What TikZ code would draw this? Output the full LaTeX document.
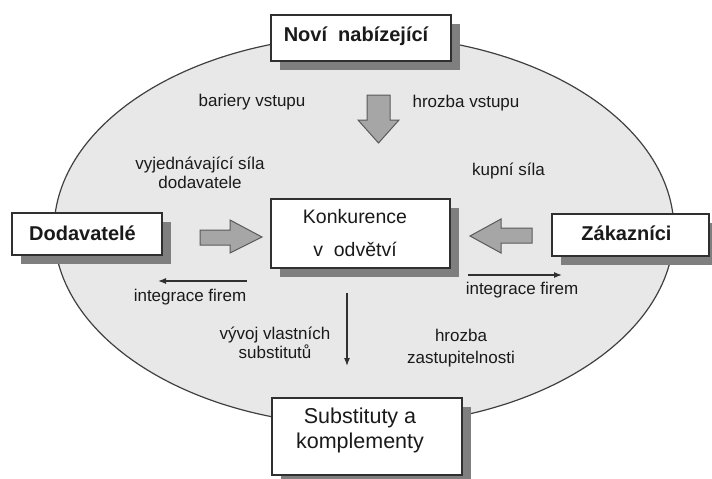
\documentclass[tikz,border=0pt]{standalone}
\usepackage{fontspec}
\setmainfont{Liberation Sans}
\usetikzlibrary{shadows,arrows.meta}
\definecolor{fieldfill}{HTML}{E8E8E8}
\definecolor{fieldline}{HTML}{404040}
\definecolor{boxline}{HTML}{303030}
\definecolor{shadowgray}{HTML}{7F7F7F}
\definecolor{blockfill}{HTML}{A6A6A6}
\definecolor{blockline}{HTML}{5A5A5A}
\definecolor{txt}{HTML}{1A1A1A}
\begin{document}
\begin{tikzpicture}[x=1pt,y=-1pt,
  forcebox/.style={draw=boxline, line width=1.3pt, fill=white, inner sep=0pt,
    general shadow={fill=shadowgray, shadow xshift=9pt, shadow yshift=-9pt}},
  boxtitle/.style={anchor=base, text=txt, inner sep=0pt, font=\fontsize{20}{24}\selectfont\bfseries},
  boxtext/.style={anchor=base, text=txt, inner sep=0pt, align=center},
  lbl/.style={anchor=base, text=txt, inner sep=0pt, align=center, font=\fontsize{17}{19}\selectfont},
  block/.style={fill=blockfill, draw=blockline, line width=1pt, line join=miter},
  thin/.style={draw=boxline, line width=1.2pt, -{Latex[length=8pt,width=6pt]}}
]
\useasboundingbox (0,0) rectangle (712,479);

% industry field
\draw[fill=fieldfill, draw=fieldline, line width=1.2pt] (364,230.5) ellipse [x radius=310pt, y radius=195pt];

% boxes of the five forces
\node[forcebox, minimum width=180pt, minimum height=46pt] (entrants) at (361,38) {};
\node[forcebox, minimum width=150pt, minimum height=42pt] (suppliers) at (87,234) {};
\node[forcebox, minimum width=157pt, minimum height=42pt] (buyers) at (630.5,235) {};
\node[forcebox, minimum width=179pt, minimum height=69pt] (rivalry) at (360.5,233.5) {};
\node[forcebox, minimum width=190pt, minimum height=77pt] (substitutes) at (367,436.5) {};

% box texts (multi-line nodes sit on the baseline of their last line)
\node[boxtitle] at (356,41.5) {Noví\ \ nabízející};
\node[boxtitle] at (82.5,240) {Dodavatelé};
\node[boxtitle] at (626.5,240) {Zákazníci};
\node[boxtext, font=\fontsize{19.5}{32.5}\selectfont] at (355,256) {Konkurence\\v\ \ odvětví};
\node[boxtext, font=\fontsize{21.5}{25}\selectfont] at (360,448.3) {Substituty a\\komplementy};

% block arrows
\draw[block] (367,95) -- (390,95) -- (390,120) -- (399,120) -- (378.5,143) -- (358,120) -- (367,120) -- cycle;
\draw[block] (200,230) -- (230,230) -- (230,220) -- (262,237) -- (230,253) -- (230,245) -- (200,245) -- cycle;
\draw[block] (532,228) -- (501,228) -- (501,219) -- (470,236) -- (501,253) -- (501,243) -- (532,243) -- cycle;

% thin arrows
\coordinate (intL0) at (247,281);
\coordinate (intL1) at (158,281);
\coordinate (intR0) at (468,275);
\coordinate (intR1) at (562,275);
\coordinate (subs0) at (347,293);
\coordinate (subs1) at (347,366);
\draw[thin] (intL0) -- (intL1);
\draw[thin] (intR0) -- (intR1);
\draw[thin] (subs0) -- (subs1);

% labels
\node[lbl] at (252,106.7) {bariery vstupu};
\node[lbl] at (466,107) {hrozba vstupu};
\node[lbl] at (200,188.3) {vyjednávající síla\\dodavatele};
\node[lbl] at (508.5,175) {kupní síla};
\node[lbl] at (190,301.7) {integrace firem};
\node[lbl] at (522,294) {integrace firem};
\node[lbl] at (275,358.3) {vývoj vlastních\\substitutů};
\node[lbl, font=\fontsize{17}{21.5}\selectfont] at (461,363.3) {hrozba\\zastupitelnosti};
\end{tikzpicture}
\end{document}
